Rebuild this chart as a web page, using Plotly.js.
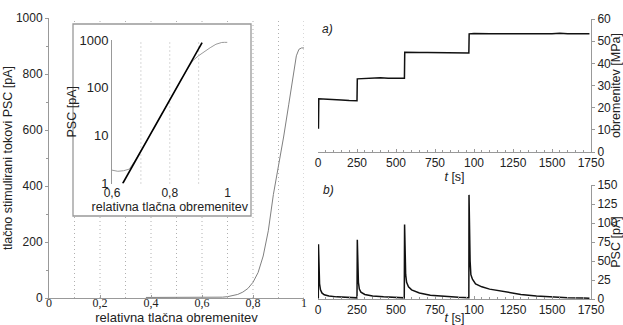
<!DOCTYPE html>
<html><head><meta charset="utf-8">
<script src="https://cdn.plot.ly/plotly-3.0.1.min.js"></script>
<style>html,body{margin:0;padding:0;background:#fff}#chart{width:623px;height:325px}</style>
</head><body><div id="chart"></div>
<script>
// relative compressive load vs. pressure-stimulated current (main + inset)
const loadX = [0.38, 0.45, 0.5, 0.55, 0.6, 0.62, 0.64, 0.66, 0.68, 0.7, 0.72, 0.74, 0.76, 0.78, 0.8, 0.82, 0.84, 0.86, 0.88, 0.9, 0.92, 0.94, 0.96, 0.97, 0.98, 0.99, 1.0];
const pscY  = [2, 2, 2, 2, 1.9, 1.8, 1.85, 2.0, 3.0, 4.7, 7.7, 12.7, 21, 34, 56, 91, 150, 240, 370, 470, 575, 690, 815, 865, 888, 893, 893];
// exponential fit line in the inset
const fitX = [0.637, 0.912];
const fitY = [1, 880];
// panel a) load steps
const tA = [0, 3, 5, 50, 100, 150, 200, 250, 252, 300, 350, 400, 450, 500, 554, 556, 600, 650, 700, 750, 800, 850, 900, 967, 969, 1000, 1100, 1200, 1300, 1400, 1500, 1550, 1600, 1700, 1740];
const stressA = [10.8, 10.8, 24, 23.9, 23.7, 23.5, 23.2, 23.1, 33, 33.2, 33.4, 33.5, 33.3, 33.2, 33.3, 45, 45.1, 44.9, 44.9, 44.8, 44.8, 44.9, 44.8, 44.7, 53.3, 53.5, 53.4, 53.3, 53.4, 53.3, 53.4, 53.6, 53.4, 53.3, 53.3];
// panel b) PSC
const tB = [0, 2, 3, 6, 10, 16, 25, 40, 70, 120, 180, 248, 250, 252, 255, 259, 265, 275, 300, 350, 420, 500, 552, 553, 555, 558, 562, 568, 580, 600, 650, 720, 800, 900, 966, 967, 968, 971, 975, 980, 990, 1010, 1050, 1100, 1200, 1300, 1400, 1500, 1600, 1700, 1740];
const pscB = [1.5, 1.5, 72, 40, 20, 12, 8, 5.5, 4, 2.8, 2, 1.5, 1.5, 78, 45, 22, 13, 9, 6, 4, 2.8, 2, 1.5, 1.5, 98, 60, 32, 22, 16, 12, 8, 5, 3.5, 2.2, 1.5, 1.5, 137, 85, 50, 32, 26, 20, 16, 13, 9, 6, 4, 2.5, 1.5, 1.2, 1];
// tick labels
const mainXTicks = [0, 0.2, 0.4, 0.6, 0.8, 1];
const mainXText = ['0', '0,2', '0,4', '0,6', '0,8', '1'];
const gridX = [0.1, 0.2, 0.3, 0.4, 0.5, 0.6, 0.7, 0.8, 0.9, 1.0];
const insetXTicks = [0.6, 0.8, 1];
const insetXText = ['0,6', '0,8', '1'];
const insetGridX = [0.7, 0.8, 0.9];
const insetYTicks = [1, 10, 100, 1000];
const insetYText = ['1', '10', '100', '1000'];
const tTicks = [0, 250, 500, 750, 1000, 1250, 1500, 1750];
const tText = ['0', '250', '500', '750', '100', '1250', '1500', '1750'];

const W = 623, H = 325;
const px = v => v / W, py = v => (H - v) / H;
const mainDomX = [px(49), px(304)], mainDomY = [py(298), py(18)];
const insDomX = [px(112), px(227.5)], insDomY = [py(183.5), py(40)];
const rDomX = [px(318), px(591)];
const aDomY = [py(152), py(19)], bDomY = [py(299), py(185)];

const SANS = 'Liberation Sans, Arial, sans-serif';
const SERIF = 'Liberation Serif, Times New Roman, serif';
const AX = '#999', TXT = '#222';
const DOT = {color: '#b0b0b0', width: 1, dash: '1px,3px'};

const traces = [
  {x: loadX, y: pscY, xaxis: 'x', yaxis: 'y', mode: 'lines', line: {color: '#808080', width: 1}, hoverinfo: 'skip'},
  {x: loadX, y: pscY, xaxis: 'x2', yaxis: 'y2', mode: 'lines', line: {color: '#9a9a9a', width: 1}, hoverinfo: 'skip'},
  {x: fitX, y: fitY, xaxis: 'x2', yaxis: 'y2', mode: 'lines', line: {color: '#000', width: 1.6}, hoverinfo: 'skip'},
  {x: tA, y: stressA, xaxis: 'x3', yaxis: 'y3', mode: 'lines', line: {color: '#111', width: 1.5}, hoverinfo: 'skip'},
  {x: tB, y: pscB, xaxis: 'x4', yaxis: 'y4', mode: 'lines', line: {color: '#111', width: 1.5}, hoverinfo: 'skip'}
];

const shapes = [];
gridX.forEach(g => shapes.push({type: 'line', xref: 'x', yref: 'paper', x0: g, x1: g, y0: mainDomY[0], y1: mainDomY[1], line: DOT, layer: 'below'}));
shapes.push({type: 'rect', xref: 'paper', yref: 'paper', x0: px(73), x1: px(251), y0: py(216), y1: py(24), fillcolor: '#fff', line: {color: '#999', width: 1.3}, layer: 'below'});
insetGridX.forEach(g => shapes.push({type: 'line', xref: 'x2', yref: 'y2 domain', x0: g, x1: g, y0: 0, y1: 1, line: DOT, layer: 'below'}));

const tickFont = {family: SANS, size: 12, color: TXT};
const layout = {
  width: W, height: H, margin: {l: 0, r: 0, t: 0, b: 0},
  paper_bgcolor: '#fff', plot_bgcolor: 'rgba(0,0,0,0)', showlegend: false,
  font: {family: SANS, size: 12, color: TXT},
  xaxis: {domain: mainDomX, anchor: 'y', range: [0, 1], tickmode: 'array', tickvals: mainXTicks, ticktext: mainXText,
    tickfont: {family: SERIF, size: 12, color: TXT}, showgrid: false, zeroline: false, showline: true, linecolor: AX, linewidth: 1,
    ticks: 'inside', ticklen: 3, tickcolor: AX, ticklabelstandoff: -6,
    title: {text: 'relativna tlačna obremenitev', font: {family: SANS, size: 13, color: TXT}, standoff: 13}},
  yaxis: {domain: mainDomY, anchor: 'x', range: [0, 1000], dtick: 200, tickfont: tickFont, showgrid: false, zeroline: false,
    showline: true, linecolor: AX, linewidth: 1, ticks: 'outside', ticklen: 3, tickcolor: AX,
    minor: {dtick: 100, ticks: 'outside', ticklen: 2, tickcolor: AX},
    title: {text: 'tlačno stimulirani tokovi PSC [pA]', font: {family: SANS, size: 12.5, color: TXT}, standoff: 0}},
  xaxis2: {domain: insDomX, anchor: 'y2', range: [0.6, 1], tickmode: 'array', tickvals: insetXTicks, ticktext: insetXText,
    tickfont: tickFont, showgrid: false, zeroline: false, showline: false, ticks: '',
    title: {text: 'relativna tlačna obremenitev', font: {family: SANS, size: 12.5, color: TXT}, standoff: 0}},
  yaxis2: {domain: insDomY, anchor: 'x2', type: 'log', range: [0, 3], tickmode: 'array', tickvals: insetYTicks, ticktext: insetYText,
    tickfont: {family: SANS, size: 13, color: TXT}, showgrid: false, zeroline: false, showline: true, linecolor: AX, linewidth: 1, ticks: '',
    title: {text: 'PSC [pA]', font: {family: SANS, size: 12.5, color: TXT}, standoff: 0}},
  xaxis3: {domain: rDomX, anchor: 'y3', range: [0, 1750], tickmode: 'array', tickvals: tTicks, ticktext: tText, tickfont: tickFont,
    showgrid: false, zeroline: false, showline: true, linecolor: AX, linewidth: 1, ticks: 'inside', ticklen: 3, tickcolor: AX,
    minor: {dtick: 50, ticks: 'inside', ticklen: 2, tickcolor: AX},
    title: {text: '<i>t</i> [s]', font: {family: SANS, size: 12.5, color: TXT}, standoff: 0}},
  yaxis3: {domain: aDomY, anchor: 'x3', side: 'right', range: [0, 60], dtick: 10, tickfont: tickFont, showgrid: false, zeroline: false,
    showline: true, linecolor: AX, linewidth: 1, ticks: 'outside', ticklen: 3, tickcolor: AX,
    title: {text: 'obremenitev [MPa]', font: {family: SANS, size: 12.5, color: TXT}, standoff: 2}},
  xaxis4: {domain: rDomX, anchor: 'y4', range: [0, 1750], tickmode: 'array', tickvals: tTicks, ticktext: tText, tickfont: tickFont,
    showgrid: false, zeroline: false, showline: true, linecolor: AX, linewidth: 1, ticks: 'inside', ticklen: 3, tickcolor: AX,
    minor: {dtick: 50, ticks: 'inside', ticklen: 2, tickcolor: AX},
    title: {text: '<i>t</i> [s]', font: {family: SANS, size: 12.5, color: TXT}, standoff: 0}},
  yaxis4: {domain: bDomY, anchor: 'x4', side: 'right', range: [0, 150], dtick: 25, tickfont: tickFont, showgrid: false, zeroline: false,
    showline: true, linecolor: AX, linewidth: 1, ticks: 'outside', ticklen: 3, tickcolor: AX,
    title: {text: 'PSC [pA]', font: {family: SANS, size: 12.5, color: TXT}, standoff: 0}},
  shapes: shapes,
  annotations: [
    {text: '<i>a)</i>', xref: 'paper', yref: 'paper', x: px(327), y: py(20), showarrow: false, font: {family: SANS, size: 12, color: TXT}},
    {text: '<i>b)</i>', xref: 'paper', yref: 'paper', x: px(328), y: py(190), showarrow: false, font: {family: SANS, size: 12, color: TXT}}
  ]
};
Plotly.newPlot('chart', traces, layout, {staticPlot: true, displayModeBar: false});
</script>
</body></html>
